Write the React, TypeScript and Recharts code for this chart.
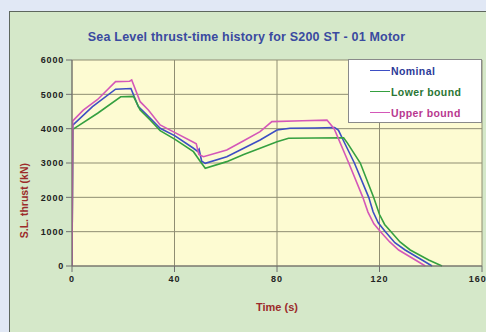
import { LineChart, Line, XAxis, YAxis, CartesianGrid, Legend } from "recharts";

// thrust (kN) against time (s)
const nominalTime = [0, 0.3, 8, 17, 23, 25.9, 29.2, 34.4, 40.2, 47.4, 49, 49.6, 50.6, 52, 60.4, 67, 73.4, 80, 85, 95, 102.5, 104, 106, 110.2, 115.8, 117.5, 119.5, 122.3, 126, 130, 136.6, 140.5];
const nominalThrust = [0, 4100, 4640, 5150, 5170, 4640, 4400, 4010, 3790, 3430, 3340, 3400, 3050, 2990, 3185, 3430, 3670, 3960, 4010, 4020, 4035, 3950, 3640, 3000, 2000, 1580, 1260, 1000, 680, 466, 175, 0];

const lowerTime = [0, 0.3, 10, 19, 24, 26.6, 30.5, 34.4, 40.2, 47.4, 50, 52, 60.4, 67, 73.4, 80, 84.5, 95, 106, 107.5, 112.5, 117.7, 120, 122, 124.5, 128, 132, 139.2, 144.4];
const lowerThrust = [0, 3980, 4450, 4930, 4940, 4544, 4253, 3940, 3690, 3330, 3050, 2846, 3040, 3250, 3428, 3621, 3719, 3730, 3737, 3580, 3000, 2000, 1500, 1210, 1000, 700, 466, 175, 0];

const upperTime = [0, 0.3, 4.4, 10, 17, 22.5, 23.3, 26.6, 29.8, 34.4, 40.2, 47.4, 48.5, 49.5, 51.3, 60.4, 67, 73.4, 78, 90, 99.5, 102.3, 108, 113.5, 115.5, 117.8, 120.4, 124, 127.5, 134, 137.9];
const upperThrust = [0, 4224, 4540, 4850, 5370, 5380, 5420, 4786, 4544, 4107, 3884, 3602, 3560, 3250, 3185, 3380, 3650, 3912, 4204, 4230, 4250, 4000, 3000, 2000, 1570, 1230, 1000, 700, 466, 175, 0];

const timeTicks = [0, 40, 80, 120, 160];
const thrustTicks = [0, 1000, 2000, 3000, 4000, 5000, 6000];

const toPoints = (time: number[], thrust: number[]) =>
  time.map((t, i) => ({ t, thrust: thrust[i] }));

const series = [
  { name: "Nominal", stroke: "#3d4ec4", text: "#2c3a98", data: toPoints(nominalTime, nominalThrust) },
  { name: "Lower bound", stroke: "#35a040", text: "#2a7634", data: toPoints(lowerTime, lowerThrust) },
  { name: "Upper bound", stroke: "#d457b8", text: "#b8388f", data: toPoints(upperTime, upperThrust) },
];

const font = '"Liberation Sans", Arial, sans-serif';

const renderLegend = () => (
  <div
    style={{
      width: 134,
      height: 64,
      background: "#ffffff",
      border: "1px solid #8a8a8a",
      boxSizing: "border-box",
      fontFamily: font,
    }}
  >
    {series.map((s) => (
      <div key={s.name} style={{ display: "flex", alignItems: "center", height: 21 }}>
        <div style={{ width: 20, marginLeft: 21, borderTop: `1.5px solid ${s.stroke}` }} />
        <span style={{ color: s.text, fontSize: 10.5, fontWeight: 700, letterSpacing: 0.4, marginLeft: 1 }}>
          {s.name}
        </span>
      </div>
    ))}
  </div>
);

export default function App() {
  return (
    <div
      style={{
        position: "absolute",
        left: 0,
        top: 0,
        width: 486,
        height: 332,
        background: "#e1e8f5",
        overflow: "hidden",
        fontFamily: font,
      }}
    >
      <div
        style={{
          position: "absolute",
          left: 9,
          top: 11,
          width: 490,
          height: 340,
          background: "#d5e8c9",
          border: "1.5px solid #5e675e",
        }}
      />
      <div
        style={{
          position: "absolute",
          left: 0,
          top: 30,
          width: 493,
          textAlign: "center",
          color: "#3a4aa0",
          fontSize: 12.5,
          fontWeight: 700,
          letterSpacing: 0.2,
        }}
      >
        Sea Level thrust-time history for S200 ST - 01 Motor
      </div>
      <div style={{ position: "absolute", left: 0, top: 0 }}>
        <LineChart width={486} height={332} margin={{ top: 60, right: 4, left: 32, bottom: 36 }}>
          <CartesianGrid stroke="#8f8d72" fill="#fdfbd2" fillOpacity={1} />
          <XAxis
            dataKey="t"
            type="number"
            domain={[0, 160]}
            ticks={timeTicks}
            height={30}
            stroke="#6f6f6f"
            tickMargin={4}
            tick={{ fill: "#222", fontSize: 9, fontWeight: 700, letterSpacing: 1 }}
            label={{ value: "Time (s)", position: "bottom", offset: 7, fill: "#9c2b2b", fontSize: 11, fontWeight: 700 }}
            allowDataOverflow
          />
          <YAxis
            type="number"
            domain={[0, 6000]}
            ticks={thrustTicks}
            width={40}
            stroke="#6f6f6f"
            tick={{ fill: "#222", fontSize: 9, fontWeight: 700, letterSpacing: 0.8 }}
            label={{ value: "S.L. thrust (kN)", angle: -90, position: "left", offset: 8, fill: "#9c2b2b", fontSize: 10.5, fontWeight: 700 }}
          />
          <Legend
            layout="horizontal"
            align="center"
            verticalAlign="middle"
            content={renderLegend}
            wrapperStyle={{ position: "absolute", left: 348, top: 59, width: 134, height: 64 }}
          />
          {series.map((s) => (
            <Line
              key={s.name}
              data={s.data}
              dataKey="thrust"
              name={s.name}
              type="linear"
              stroke={s.stroke}
              strokeWidth={1.6}
              dot={false}
              isAnimationActive={false}
            />
          ))}
        </LineChart>
      </div>
    </div>
  );
}
